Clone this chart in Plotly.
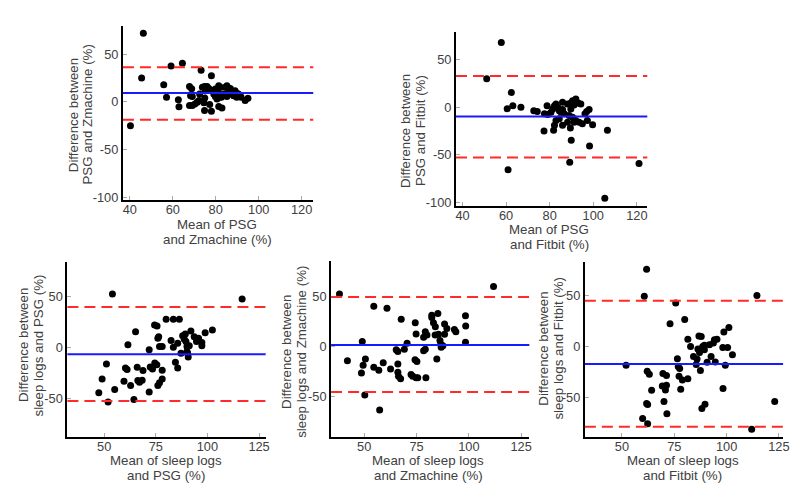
import plotly.graph_objects as go

# ---------------- data ----------------
# Panel 1: PSG vs Zmachine
p1_mean = [46.3, 45.5, 40.3, 55.8, 57.1, 59.2, 64.5, 62.6, 62.9, 73.2, 78.0,
           67.8, 68.8, 68.3, 69.1, 67.8, 69.1, 70.3, 71.4, 72.2, 72.5, 73.8, 74.8,
           76.0, 76.8, 75.2, 74.9, 74.5, 74.8, 77.2, 78.0, 78.3, 79.1, 79.8, 81.1,
           81.4, 82.2, 80.6, 81.7, 82.6, 81.4, 82.9, 83.7, 84.5, 85.2, 86.0, 86.8,
           87.5, 88.3, 89.0, 89.8, 90.6, 91.4, 91.8, 89.8, 93.7, 95.0, 85.2, 79.8]
p1_diff = [72.2, 25.0, -25.0, 18.0, 4.9, 37.8, 40.6, 2.4, -5.2, 33.3, 27.4,
           16.3, 13.9, 6.6, 5.6, -3.8, -3.8, -2.1, -0.3, 1.4, 8.3, 15.3, 16.3,
           16.3, 14.2, 11.8, 4.2, -1.0, -9.0, -2.8, -9.7, 11.8, 8.3, 5.6, 10.8,
           17.0, 15.3, 3.1, 4.9, 4.9, -4.9, -6.3, 8.3, 15.3, 17.0, 11.8, 14.2,
           8.3, 6.6, 11.8, 9.0, 8.3, 6.6, 4.9, 4.9, 1.4, 3.8, 5.6, 13.5]
p1_lines = [9.3, 36.3, -18.7]  # bias, upper LoA, lower LoA

# Panel 2: PSG vs Fitbit
p2_mean = [57.8, 51.1, 62.4, 60.5, 63.1, 66.8, 60.9, 89.2, 89.9, 98.3, 106.5,
           99.7, 105.3, 121.0, 72.7, 74.3, 78.8, 77.6, 79.1, 80.6, 81.4, 82.2,
           82.9, 83.7, 84.4, 85.2, 85.9, 86.7, 85.9, 88.2, 89.7, 90.5, 92.0, 93.1,
           94.3, 91.2, 89.7, 88.9, 90.5, 91.2, 92.0, 93.5, 95.0, 96.2, 97.0, 98.1,
           97.3, 82.9, 82.2, 81.8, 77.4, 85.9, 89.5, 88.2, 84.4]
p2_diff = [68.2, 30.1, 15.6, -1.4, 1.7, 0.0, -65.7, -57.8, -34.6, -40.8, -24.2,
           -18.3, -95.8, -59.2, -3.5, -4.5, 1.7, -6.9, -7.6, -5.2, -1.7, 1.7,
           3.5, 0.0, -3.5, -5.2, -2.4, -6.9, 5.2, 3.5, 4.5, 6.9, 8.7, 4.5,
           3.5, 2.4, -1.7, -8.7, -10.4, -15.6, -13.8, -15.6, -17.3, -6.9, -4.5, -2.4,
           -13.8, -13.8, -19.0, -24.2, -24.9, -19.0, -21.8, -15.6, -12.1]
p2_lines = [-9.7, 32.9, -52.9]

# Panel 3: sleep logs vs PSG
p3_mean = [54.0, 116.8, 47.4, 49.0, 51.1, 51.9, 55.1, 61.5, 59.6, 60.3, 61.1,
           62.8, 65.2, 66.0, 66.3, 67.1, 68.4, 68.8, 64.4, 71.8, 71.8, 72.3, 73.4,
           74.4, 75.6, 74.5, 75.5, 76.0, 76.8, 78.1, 78.1, 76.0, 76.4, 76.8, 78.1,
           80.0, 83.5, 86.4, 82.4, 83.5, 84.5, 85.6, 85.6, 87.2, 88.0, 88.8, 89.3,
           89.6, 90.1, 90.4, 90.7, 91.2, 92.0, 93.6, 94.7, 95.7, 97.3, 97.3, 98.9,
           102.4, 90.1]
p3_diff = [51.9, 47.1, -44.5, -31.0, -16.5, -53.5, -41.3, 2.3, -33.2, -20.3, -21.9,
           -37.4, 15.2, -19.7, -32.6, -34.2, -32.3, -22.9, -51.0, -43.9, -2.6, -19.4, -21.3,
           21.6, 20.6, -15.5, -17.1, -37.4, -34.8, -31.0, -22.6, 8.7, 10.3, 0.6, 0.6,
           27.4, 27.4, 27.4, 6.5, 0.0, -14.8, -20.3, 3.9, -5.8, 11.3, 7.7, 12.9,
           5.5, 0.6, -5.8, -9.7, 1.3, 15.8, 10.3, 5.5, 8.7, 4.5, 1.3, 14.2,
           16.8, -4.2]
p3_lines = [-6.8, 39.4, -52.6]

# Panel 4: sleep logs vs Zmachine
p4_mean = [38.2, 111.8, 42.0, 49.1, 48.7, 49.5, 50.3, 50.6, 54.6, 54.6, 57.0,
           59.1, 60.9, 57.4, 62.6, 65.3, 66.1, 66.1, 66.1, 66.4, 67.4, 67.7, 69.2,
           70.5, 72.4, 73.2, 74.4, 74.8, 74.3, 75.2, 74.8, 75.6, 78.4, 79.2, 79.5,
           78.4, 79.2, 80.0, 82.3, 82.3, 83.1, 83.9, 84.7, 85.2, 85.5, 86.2, 86.6,
           86.8, 87.6, 88.4, 89.5, 88.4, 93.1, 93.8, 98.4, 98.5, 98.4, 84.0]
p4_diff = [52.1, 59.7, -14.1, 4.9, -26.2, -18.7, -48.2, -12.5, 40.0, -20.7, -23.6,
           -16.1, 38.0, -63.0, -22.3, -3.3, -4.9, -17.4, -25.6, -29.5, -32.1, 27.2, -2.6,
           3.3, -27.9, -29.5, 23.6, 12.5, -13.1, -14.8, -31.1, -31.1, -4.3, -2.6, -31.1,
           9.2, 14.8, 11.5, 31.1, 28.9, 23.6, 11.5, -12.5, 32.8, 12.1, 5.9, 2.3,
           -0.7, 0.7, 22.3, 18.0, 12.1, 17.0, 14.8, 30.5, 20.3, 4.3, 19.7]
p4_lines = [1.6, 49.2, -45.2]

# Panel 5: sleep logs vs Fitbit
p5_mean = [61.8, 60.7, 75.7, 114.5, 52.0, 73.0, 80.0, 62.1, 63.1, 64.2, 61.8,
           62.3, 59.9, 62.3, 69.6, 71.3, 69.3, 70.8, 71.3, 70.1, 71.5, 76.5, 76.9,
           77.6, 77.3, 78.1, 78.9, 81.5, 82.8, 81.5, 84.2, 85.5, 85.9, 86.8, 87.9,
           86.3, 87.1, 87.5, 88.2, 89.7, 88.6, 89.4, 89.4, 91.8, 90.7, 92.6, 94.2,
           93.7, 95.4, 94.6, 98.7, 98.2, 100.5, 101.1, 99.4, 98.3, 102.8, 112.0, 123.0]
p5_diff = [76.2, 49.5, 43.0, 50.2, -18.6, 22.5, 26.7, -24.4, -27.4, -43.3, -56.4,
           -57.3, -71.0, -76.2, -26.7, -28.7, -39.1, -43.0, -38.4, -54.4, -66.4, -12.1, -19.9,
           -21.8, -29.3, -42.3, -33.2, 7.2, 0.0, -31.9, -9.8, -17.9, -12.4, 10.4, 9.8,
           -2.6, -5.9, -23.8, -61.2, -57.0, 0.0, -3.3, 1.3, 1.6, -15.6, -9.8, 6.5,
           3.3, 7.2, -15.3, 14.3, -1.0, -1.0, 18.6, -18.6, -41.4, -8.1, -81.8, -54.4]
p5_lines = [-17.3, 45.0, -79.2]

# axis titles, one list entry per text line
y_titles = [["Difference between", "PSG and Zmachine (%)"],
            ["Difference between", "PSG and Fitbit (%)"],
            ["Difference between", "sleep logs and PSG (%)"],
            ["Difference between", "sleep logs and Zmachine (%)"],
            ["Difference between", "sleep logs and Fitbit (%)"]]
x_titles = [["Mean of PSG", "and Zmachine (%)"],
            ["Mean of PSG", "and Fitbit (%)"],
            ["Mean of sleep logs", "and PSG (%)"],
            ["Mean of sleep logs", "and Zmachine (%)"],
            ["Mean of sleep logs", "and Fitbit (%)"]]
x_ticks_top = [40, 60, 80, 100, 120]
x_ticklabels_top = ["40", "60", "80", "100", "120"]
y_ticks_top = [-100, -50, 0, 50]
y_ticklabels_top = ["-100", "-50", "0", "50"]
x_ticks_bot = [50, 75, 100, 125]
x_ticklabels_bot = ["50", "75", "100", "125"]
y_ticks_bot = [-50, 0, 50]
y_ticklabels_bot = ["-50", "0", "50"]

# ---------------- layout geometry (reference pixels) ----------------
W, H = 800, 503
panels = [
    dict(x=(123, 315), y=(26, 202), xr=[36.8, 125.4], yr=[-103, 80],
         xt=(x_ticks_top, x_ticklabels_top), yt=(y_ticks_top, y_ticklabels_top),
         ytl=((73, 87.5), 116), xtl=(218, (227, 242))),
    dict(x=(459, 652), y=(32, 208), xr=[37, 124.8], yr=[-103.8, 79.6],
         xt=(x_ticks_top, x_ticklabels_top), yt=(y_ticks_top, y_ticklabels_top),
         ytl=((408, 423), 132), xtl=(553, (232, 247))),
    dict(x=(67, 267), y=(265, 441), xr=[32.2, 128.2], yr=[-87.4, 82.9],
         xt=(x_ticks_bot, x_ticklabels_bot), yt=(y_ticks_bot, y_ticklabels_bot),
         ytl=((22.7, 38.3), 349), xtl=(166, (465, 480))),
    dict(x=(333, 533), y=(264, 441), xr=[34.2, 128.9], yr=[-89.5, 84.6],
         xt=(x_ticks_bot, x_ticklabels_bot), yt=(y_ticks_bot, y_ticklabels_bot),
         ytl=((288, 303), 355), xtl=(431, (465, 480))),
    dict(x=(589, 789), y=(265, 441), xr=[32.3, 127.0], yr=[-89.0, 83.0],
         xt=(x_ticks_bot, x_ticklabels_bot), yt=(y_ticks_bot, y_ticklabels_bot),
         ytl=((547, 562), 352), xtl=(688, (465, 480))),
]
means = [p1_mean, p2_mean, p3_mean, p4_mean, p5_mean]
diffs = [p1_diff, p2_diff, p3_diff, p4_diff, p5_diff]
lines = [p1_lines, p2_lines, p3_lines, p4_lines, p5_lines]


def fx(px):
    return px / W


def fy(py):
    return 1 - py / H


FONT = "Liberation Sans, Arial, sans-serif"
TXT = "#404040"
FS_T = 13.3   # axis titles
FS_K = 12.8   # tick labels

fig = go.Figure()
layout = dict(width=W, height=H, margin=dict(l=0, r=0, t=0, b=0),
              paper_bgcolor="white", plot_bgcolor="white", showlegend=False,
              font=dict(family=FONT, size=FS_T, color=TXT))
annotations = []
shapes = []

for i, p in enumerate(panels):
    n = "" if i == 0 else str(i + 1)
    xa, ya = "x" + n, "y" + n
    fig.add_trace(go.Scatter(x=means[i], y=diffs[i], mode="markers",
                             marker=dict(color="black", size=7),
                             xaxis=xa, yaxis=ya, hoverinfo="skip"))
    common = dict(showgrid=False, zeroline=False, showline=True, linecolor="black",
                  linewidth=2, ticks="inside", ticklen=4, tickwidth=1, tickcolor="#aaaaaa",
                  tickfont=dict(family=FONT, size=FS_K, color=TXT))
    layout["xaxis" + n] = dict(domain=[fx(p["x"][0]), fx(p["x"][1])], range=p["xr"],
                               tickvals=p["xt"][0], ticktext=p["xt"][1], anchor=ya,
                               ticklabelstandoff=-3, **common)
    layout["yaxis" + n] = dict(domain=[fy(p["y"][1]), fy(p["y"][0])], range=p["yr"],
                               tickvals=p["yt"][0], ticktext=p["yt"][1], anchor=xa, **common)
    bias, up, lo = lines[i]
    for val, col, dash in [(up, "#ff2a2a", "11px,6px"), (lo, "#ff2a2a", "11px,6px"),
                           (bias, "#1a1aff", "solid")]:
        shapes.append(dict(type="line", xref=xa + " domain", yref=ya, x0=0, x1=1, y0=val, y1=val,
                           line=dict(color=col, width=2, dash=dash)))
    (yx1, yx2), ycy = p["ytl"]
    for txt, xx in zip(y_titles[i], (yx1, yx2)):
        annotations.append(dict(text=txt, x=fx(xx), y=fy(ycy), xref="paper", yref="paper",
                                showarrow=False, textangle=-90,
                                font=dict(family=FONT, size=FS_T, color=TXT),
                                xanchor="center", yanchor="middle"))
    xcx, (xy1, xy2) = p["xtl"]
    for txt, yy in zip(x_titles[i], (xy1, xy2)):
        annotations.append(dict(text=txt, x=fx(xcx), y=fy(yy), xref="paper", yref="paper",
                                showarrow=False,
                                font=dict(family=FONT, size=FS_T, color=TXT),
                                xanchor="center", yanchor="middle"))

layout["annotations"] = annotations
layout["shapes"] = shapes
fig.update_layout(**layout)
fig.write_html("out.html", config={"displayModeBar": False},
               post_script="document.body.style.margin='0';document.body.style.overflow='hidden';")
